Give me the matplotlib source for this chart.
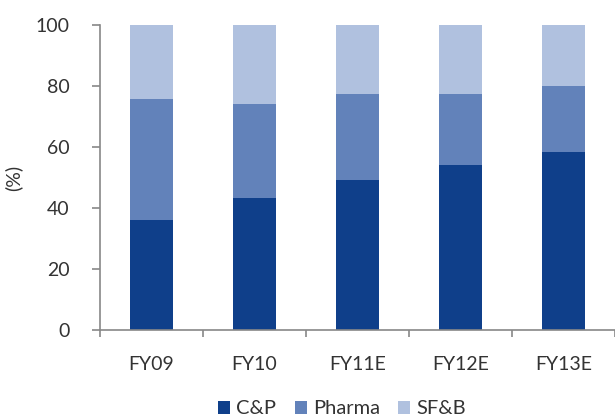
import numpy as np
import matplotlib
matplotlib.use("Agg")
import matplotlib.pyplot as plt

categories = ["FY09", "FY10", "FY11E", "FY12E", "FY13E"]
cp = [36.1, 43.3, 49.2, 54.1, 58.4]
pharma = [39.6, 30.8, 28.2, 23.3, 21.6]
sfb = [24.3, 25.9, 22.6, 22.6, 20.0]

colors = ["#0f3f8a", "#6282ba", "#b0c1df"]
txt = "#333333"

plt.rcParams["font.family"] = ["Lato", "DejaVu Sans"]

fig = plt.figure(figsize=(6.15, 4.19), dpi=100)
ax = fig.add_axes([0.1626, 0.2124, 0.8374, 0.7276])

x = np.arange(len(categories))
w = 0.41
ax.bar(x, cp, w, color=colors[0], label="C&P")
ax.bar(x, pharma, w, bottom=cp, color=colors[1], label="Pharma")
ax.bar(x, sfb, w, bottom=np.array(cp) + np.array(pharma), color=colors[2], label="SF&B")

ax.set_xlim(-0.5, len(categories) - 0.5)
ax.set_ylim(0, 100)
ax.set_yticks(range(0, 101, 20))
ax.set_xticks(x)
ax.set_xticklabels(categories)
ax.set_xticks(np.arange(-0.5, len(categories)), minor=True)
ax.tick_params(axis="x", which="major", length=0, pad=19, labelsize=14, labelcolor=txt)
ax.tick_params(axis="x", which="minor", length=5, width=1.2, color="#888888")
ax.tick_params(axis="y", length=6, width=1.2, color="#888888", labelsize=14, labelcolor=txt, pad=16)

for s in ["top", "right"]:
    ax.spines[s].set_visible(False)
for s in ["left", "bottom"]:
    ax.spines[s].set_color("#888888")
    ax.spines[s].set_linewidth(1.2)

ax.set_ylabel("(%)", fontsize=14, color=txt)
ax.yaxis.set_label_coords(-0.151, 0.5)

fig.legend(loc="center", bbox_to_anchor=(0.556, 0.024), ncol=3, frameon=False,
           fontsize=14.5, handlelength=0.6, handleheight=0.6, handletextpad=0.3,
           columnspacing=0.9, labelcolor=txt, borderpad=0)

fig.savefig("out.png", dpi=100)
